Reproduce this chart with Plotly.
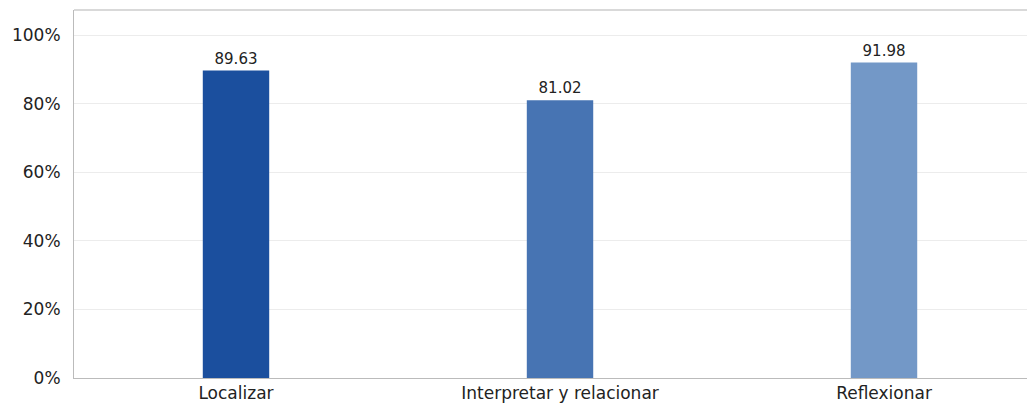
import plotly.graph_objects as go

categories = ["Localizar", "Interpretar y relacionar", "Reflexionar"]
values = [89.63, 81.02, 91.98]
colors = ["#1b4f9e", "#4774b3", "#7398c7"]
y_ticks = [0, 20, 40, 60, 80, 100]
y_tick_labels = ["0%", "20%", "40%", "60%", "80%", "100%"]

fig = go.Figure()
fig.add_trace(go.Bar(
    x=categories, y=values, width=0.205,
    marker=dict(color=colors, line=dict(width=0)),
    text=[f"{v:.2f}" for v in values], textposition="outside",
    textfont=dict(family="DejaVu Sans", size=15, color="#222"),
    cliponaxis=False,
))
fig.update_layout(
    width=1027, height=396,
    margin=dict(l=66, r=0, t=2, b=26),
    paper_bgcolor="white", plot_bgcolor="white",
    showlegend=False,
    font=dict(family="DejaVu Sans", size=17, color="#222"),
    xaxis=dict(range=[-0.5, 2.466], showline=True, linecolor="#bbbbbb", linewidth=1,
               ticks="", tickfont=dict(size=17), showgrid=False, ticklabelstandoff=0),
    yaxis=dict(range=[0, 107.3], tickvals=y_ticks, ticktext=y_tick_labels,
               showline=True, linecolor="#bbbbbb", linewidth=1,
               gridcolor="#ececec", gridwidth=1, zeroline=False,
               ticks="", ticklen=0, tickfont=dict(size=17), ticklabelstandoff=9),
)
fig.add_shape(type="line", xref="paper", yref="paper", x0=0, x1=1, y0=1, y1=1,
              line=dict(color="#cccccc", width=1.5))
fig.write_html("out.html")
